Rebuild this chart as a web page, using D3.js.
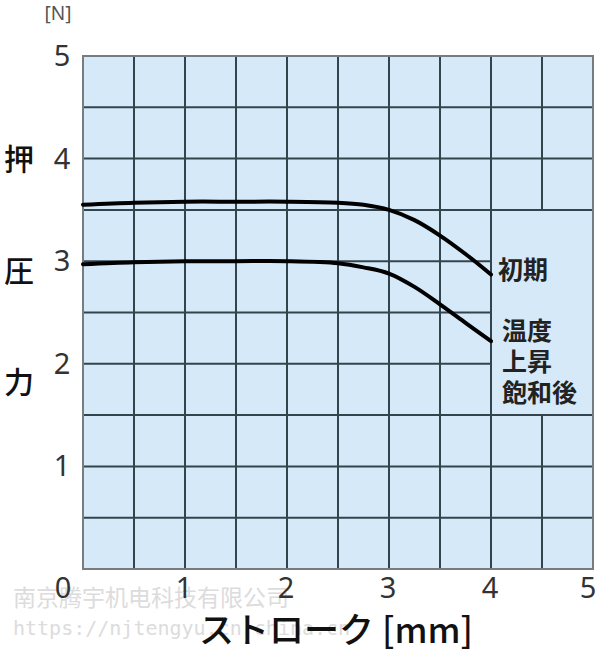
<!DOCTYPE html>
<html><head><meta charset="utf-8">
<script src="https://cdn.jsdelivr.net/npm/d3@7"></script>
<style>html,body{margin:0;padding:0;background:#fff;}svg{display:block;}</style>
</head><body>
<svg id="chart" width="600" height="655"></svg>
<script>
// ---- data ----
const stroke   = [0, 0.5, 1, 1.5, 2, 2.5, 2.75, 3, 3.25, 3.5, 3.75, 4];
const initial  = [3.55, 3.57, 3.58, 3.58, 3.58, 3.57, 3.55, 3.50, 3.40, 3.25, 3.07, 2.87];
const afterSat = [2.97, 2.99, 3.00, 3.00, 3.00, 2.98, 2.94, 2.88, 2.75, 2.58, 2.40, 2.22];
const xTicks = [0, 1, 2, 3, 4, 5];
const yTicks = [1, 2, 3, 4, 5];
const gridSteps = [0.5, 1, 1.5, 2, 2.5, 3, 3.5, 4, 4.5];
const yTitle = ["押", "圧", "力"];
const xTitle = "ストローク [mm]";
const unitLabel = "[N]";
const label1 = ["初期"];
const label2 = ["温度", "上昇", "飽和後"];
const watermark1 = "南京腾宇机电科技有限公司";
const watermark2 = "https://njtengyu.cn.china.cn";

const svg = d3.select("#chart");
const x = d3.scaleLinear().domain([0, 5]).range([83, 593]);
const y = d3.scaleLinear().domain([0, 5]).range([569, 56]);
const jp = "'Noto Sans CJK JP', 'Noto Sans', sans-serif";

// plot background
svg.append("rect").attr("x", x(0)).attr("y", y(5))
  .attr("width", x(5) - x(0)).attr("height", y(0) - y(5))
  .attr("fill", "#d5e9f9");

// grid with blank box x:[4,5], y:[1.5,3.5]
const gridColor = "#33444c";
const g = svg.append("g").attr("stroke", gridColor).attr("stroke-width", 2);
gridSteps.forEach(v => {
  if (v === 4.5) {
    g.append("line").attr("x1", x(v)).attr("x2", x(v)).attr("y1", y(5)).attr("y2", y(3.5));
    g.append("line").attr("x1", x(v)).attr("x2", x(v)).attr("y1", y(1.5)).attr("y2", y(0));
  } else {
    g.append("line").attr("x1", x(v)).attr("x2", x(v)).attr("y1", y(5)).attr("y2", y(0));
  }
  const xEnd = (v > 1.5 && v < 3.5) ? 4 : 5;
  g.append("line").attr("x1", x(0)).attr("x2", x(xEnd)).attr("y1", y(v)).attr("y2", y(v));
});

// frame
svg.append("rect").attr("x", x(0)).attr("y", y(5))
  .attr("width", x(5) - x(0)).attr("height", y(0) - y(5))
  .attr("fill", "none").attr("stroke", "#767c80").attr("stroke-width", 2);

// watermark
svg.append("text").attr("x", 13).attr("y", 606).attr("fill", "#dcdcdc")
  .attr("font-family", "'Noto Sans CJK SC', sans-serif").attr("font-size", 23)
  .text(watermark1);
svg.append("text").attr("x", 13).attr("y", 635).attr("fill", "#dcdcdc")
  .attr("font-family", "'DejaVu Sans Mono', monospace").attr("font-size", 20)
  .text(watermark2);

// curves
const line = d3.line().x((d, i) => x(stroke[i])).y(d => y(d)).curve(d3.curveCatmullRom.alpha(0.5));
[initial, afterSat].forEach(s => {
  svg.append("path").attr("d", line(s)).attr("fill", "none")
    .attr("stroke", "#000").attr("stroke-width", 4).attr("stroke-linecap", "round");
});

// tick labels
const tickFont = "'Noto Sans', 'Open Sans', sans-serif";
svg.append("g").selectAll("text").data(xTicks).join("text")
  .attr("x", d => x(d) + (d === 0 ? -20 : d === 5 ? -5 : -1))
  .attr("y", 598).attr("text-anchor", "middle")
  .attr("font-family", tickFont).attr("font-size", 29).attr("fill", "#333")
  .text(d => d);
svg.append("g").selectAll("text").data(yTicks).join("text")
  .attr("x", 62).attr("y", d => y(d) + 10).attr("text-anchor", "middle")
  .attr("font-family", tickFont).attr("font-size", 29).attr("fill", "#333")
  .text(d => d);

// unit label
svg.append("text").attr("x", 58).attr("y", 20).attr("text-anchor", "middle")
  .attr("font-family", tickFont).attr("font-size", 19).attr("fill", "#555")
  .text(unitLabel);

// y axis title
const yTitlePos = [4.0, 2.9, 1.82];
svg.append("g").selectAll("text").data(yTitle).join("text")
  .attr("x", 19).attr("y", (d, i) => y(yTitlePos[i]) + 11).attr("text-anchor", "middle")
  .attr("font-family", jp).attr("font-size", 30).attr("font-weight", 500).attr("fill", "#111")
  .text(d => d);

// x axis title
svg.append("text").attr("x", 336).attr("y", 643).attr("text-anchor", "middle")
  .attr("font-family", jp).attr("font-size", 35).attr("font-weight", 500).attr("fill", "#111")
  .text(xTitle);

// curve labels
svg.append("text").attr("x", 498).attr("y", 279)
  .attr("font-family", jp).attr("font-size", 25).attr("font-weight", 700).attr("fill", "#222")
  .text(label1[0]);
svg.append("g").selectAll("text").data(label2).join("text")
  .attr("x", 502).attr("y", (d, i) => 340 + i * 31)
  .attr("font-family", jp).attr("font-size", 25).attr("font-weight", 700).attr("fill", "#222")
  .text(d => d);
</script>
</body></html>
